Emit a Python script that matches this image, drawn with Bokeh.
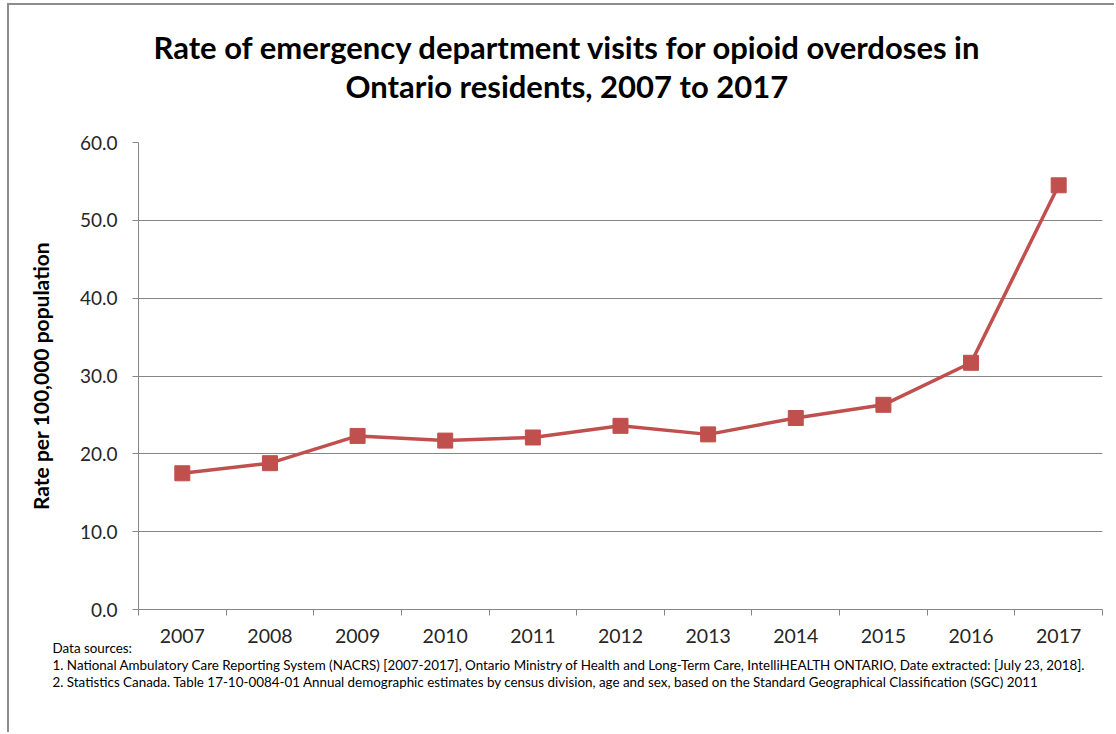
from bokeh.plotting import figure
from bokeh.models import (Range1d, FixedTicker, LinearAxis, Grid, Title, NumeralTickFormatter)
from bokeh.embed import file_html
from bokeh.resources import INLINE

# ---- data ----
years = ["2007", "2008", "2009", "2010", "2011", "2012", "2013", "2014", "2015", "2016", "2017"]
rates = [17.5, 18.8, 22.3, 21.7, 22.1, 23.6, 22.5, 24.6, 26.3, 31.7, 54.5]
y_ticks = [0, 10, 20, 30, 40, 50, 60]
title_lines = ["Rate of emergency department visits for opioid overdoses in",
               "Ontario residents, 2007 to 2017"]
y_label = "Rate per 100,000 population"
notes = ["Data sources:",
         "1. National Ambulatory Care Reporting System (NACRS) [2007-2017], Ontario Ministry of Health and Long-Term Care, IntelliHEALTH ONTARIO, Date extracted: [July 23, 2018].",
         "2. Statistics Canada. Table 17-10-0084-01 Annual demographic estimates by census division, age and sex, based on the Standard Geographical Classification (SGC) 2011"]

RED = "#C0504D"
GRAY = "#868686"
FONT = "Lato"
TXT = "#262626"

n = len(years)
xs = [i + 0.5 for i in range(n)]

p = figure(width=1107, height=729, output_backend="svg", toolbar_location=None,
           x_range=Range1d(0, n), y_range=Range1d(0, 60),
           x_axis_type=None, y_axis_type=None,
           min_border_left=129, min_border_right=14, min_border_top=137, min_border_bottom=125)
p.margin = (5, 0, 0, 9)
p.styles = {"box-shadow": "-2px -2px 0 0 #8c8c8c"}
p.outline_line_color = None
p.background_fill_color = "white"
p.border_fill_color = "white"

# y axis
yax = LinearAxis(ticker=FixedTicker(ticks=y_ticks, minor_ticks=[]),
                 formatter=NumeralTickFormatter(format="0.0"))
yax.axis_line_color = GRAY
yax.major_tick_line_color = GRAY
yax.major_tick_out = 6
yax.major_tick_in = 0
yax.major_label_standoff = 15
yax.major_label_text_font = FONT
yax.major_label_text_font_size = "19px"
yax.major_label_text_color = TXT
yax.axis_label = y_label
yax.axis_label_text_font = FONT
yax.axis_label_text_font_style = "bold"
yax.axis_label_text_font_size = "21px"
yax.axis_label_text_color = "black"
yax.axis_label_standoff = 24
p.add_layout(yax, "left")

# x axis: boundary ticks
xax1 = LinearAxis(ticker=FixedTicker(ticks=list(range(n + 1)), minor_ticks=[]))
xax1.axis_line_color = GRAY
xax1.major_tick_line_color = GRAY
xax1.major_tick_out = 6
xax1.major_tick_in = 0
xax1.major_label_text_font_size = "0px"
xax1.major_label_standoff = 0
xax1.major_label_overrides = {i: "" for i in range(n + 1)}
p.add_layout(xax1, "below")

# x axis: year labels
xax2 = LinearAxis(ticker=FixedTicker(ticks=xs, minor_ticks=[]))
xax2.major_label_overrides = {x: y for x, y in zip(xs, years)}
xax2.axis_line_color = None
xax2.major_tick_line_color = None
xax2.major_tick_out = 0
xax2.major_tick_in = 0
xax2.major_label_standoff = 13
xax2.major_label_text_font = FONT
xax2.major_label_text_font_size = "19.5px"
xax2.major_label_text_color = TXT
p.add_layout(xax2, "below")

# grid
p.add_layout(Grid(dimension=1, ticker=FixedTicker(ticks=y_ticks[1:]),
                  grid_line_color=GRAY))

# data
p.line(xs, rates, line_color=RED, line_width=3.5)
p.scatter(xs, rates, marker="square", size=15, fill_color=RED, line_color=RED)

# title: spacer nearest the frame, then line 2, then line 1
p.add_layout(Title(text=" ", align="left", standoff=24, text_font=FONT,
                   text_font_size="10px", text_color="white"), "above")
p.add_layout(Title(text=title_lines[1], align="left", offset=207, standoff=-1.2,
                   text_font=FONT, text_font_style="bold", text_font_size="31px",
                   text_color="black"), "above")
p.add_layout(Title(text=title_lines[0], align="left", offset=15, standoff=-1.2,
                   text_font=FONT, text_font_style="bold", text_font_size="31px",
                   text_color="black"), "above")

# footnotes below the axes
note_standoffs = [-15, 13, -15]
for t, s in zip(notes, note_standoffs):
    p.add_layout(Title(text=t, align="left", offset=-86, standoff=s,
                       text_font=FONT, text_font_style="normal", text_font_size="13.4px",
                       text_color="black"), "below")

open("out.html", "w").write(file_html(p, INLINE))
